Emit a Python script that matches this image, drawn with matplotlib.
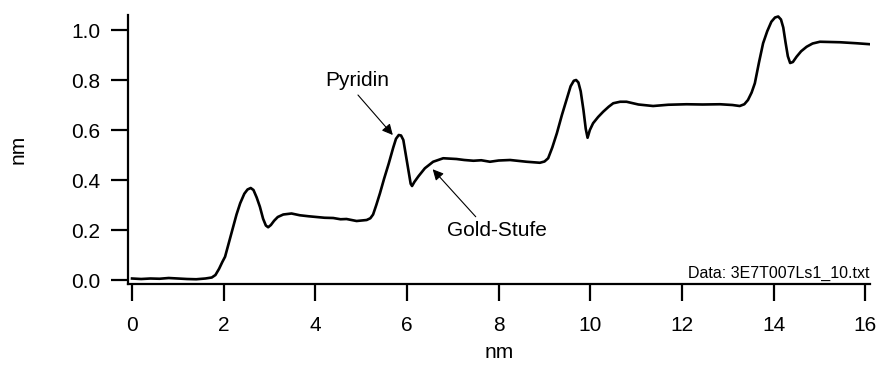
"""Height profile of a gold step surface with pyridine"""
import matplotlib.pyplot as plt

plt.rcParams['font.family'] = ['Liberation Sans', 'DejaVu Sans']

# profile (nm, nm)
x_nm = [0.00, 0.20, 0.40, 0.60, 0.80, 1.00, 1.20, 1.40, 1.60, 1.74, 1.82, 1.90,
        1.97, 2.03, 2.10, 2.16, 2.21, 2.28, 2.36, 2.45, 2.52, 2.59, 2.65, 2.72,
        2.79, 2.86, 2.92, 2.97, 3.03, 3.10, 3.18, 3.30, 3.48, 3.66, 3.85, 4.03,
        4.20, 4.39, 4.55, 4.68, 4.90, 5.12, 5.20, 5.26, 5.33, 5.41, 5.50, 5.60,
        5.70, 5.76, 5.82, 5.87, 5.92, 5.97, 6.03, 6.08, 6.11, 6.16, 6.25, 6.39,
        6.57, 6.79, 7.08, 7.25, 7.45, 7.62, 7.81, 8.00, 8.25, 8.40, 8.61, 8.90,
        9.00, 9.08, 9.17, 9.27, 9.38, 9.48, 9.57, 9.64, 9.69, 9.74, 9.79, 9.85,
        9.90, 9.94, 9.99, 10.06, 10.17, 10.28, 10.40, 10.50, 10.65, 10.79,
        11.05, 11.37, 11.70, 12.10, 12.45, 12.83, 13.10, 13.26, 13.36, 13.44,
        13.52, 13.59, 13.68, 13.77, 13.86, 13.95, 14.03, 14.10, 14.16, 14.21,
        14.26, 14.31, 14.36, 14.42, 14.50, 14.60, 14.72, 14.85, 15.01, 15.25,
        15.45, 15.65, 15.81, 16.11]
height_nm = [0.006, 0.004, 0.006, 0.005, 0.008, 0.006, 0.004, 0.003, 0.006, 0.010,
             0.020, 0.045, 0.072, 0.093, 0.140, 0.180, 0.213, 0.262, 0.307, 0.345,
             0.362, 0.368, 0.360, 0.330, 0.293, 0.245, 0.218, 0.211, 0.220, 0.237,
             0.252, 0.262, 0.266, 0.259, 0.255, 0.252, 0.249, 0.248, 0.243, 0.244,
             0.236, 0.240, 0.247, 0.262, 0.300, 0.347, 0.405, 0.465, 0.530, 0.565,
             0.580, 0.578, 0.560, 0.505, 0.440, 0.385, 0.376, 0.392, 0.415, 0.447,
             0.473, 0.487, 0.484, 0.480, 0.477, 0.479, 0.473, 0.478, 0.480, 0.477,
             0.473, 0.469, 0.474, 0.487, 0.530, 0.587, 0.660, 0.720, 0.775, 0.797,
             0.800, 0.790, 0.755, 0.680, 0.605, 0.569, 0.600, 0.627, 0.652, 0.673,
             0.693, 0.707, 0.713, 0.713, 0.702, 0.696, 0.701, 0.703, 0.702, 0.703,
             0.700, 0.696, 0.703, 0.720, 0.750, 0.787, 0.870, 0.947, 0.995, 1.033,
             1.050, 1.054, 1.042, 1.010, 0.950, 0.895, 0.868, 0.872, 0.893, 0.915,
             0.933, 0.946, 0.953, 0.952, 0.951, 0.949, 0.947, 0.943]

x_ticks = [0, 2, 4, 6, 8, 10, 12, 14, 16]
y_ticks = [0.0, 0.2, 0.4, 0.6, 0.8, 1.0]
data_file = 'Data: 3E7T007Ls1_10.txt'


def plot():
    """Draw the profile"""
    fig = plt.figure(figsize=(8.8, 3.65), dpi=100)
    ax = fig.add_axes([0.1455, 0.2219, 0.843, 0.737])
    ax.plot(x_nm, height_nm, color='black', lw=1.9)

    ax.set_xlim(-0.087, 16.1)
    ax.set_ylim(-0.016, 1.06)
    ax.set_xticks(x_ticks)
    ax.set_yticks(y_ticks)
    ax.set_yticklabels([f'{v:.1f}' for v in y_ticks])
    for side in ('top', 'right'):
        ax.spines[side].set_visible(False)
    for side in ('left', 'bottom'):
        ax.spines[side].set_linewidth(1.6)
    ax.tick_params(direction='out', length=12, width=1.6, labelsize=15)
    ax.tick_params(axis='x', pad=11)
    ax.tick_params(axis='y', pad=8)

    ax.set_xlabel('nm', fontsize=15, labelpad=6)
    ax.set_ylabel('nm', fontsize=15, labelpad=31)

    arrow = dict(arrowstyle='-|>', color='black', lw=0.8, mutation_scale=16,
                 shrinkA=0, shrinkB=0)
    ax.annotate('', xy=(5.69, 0.58), xytext=(4.93, 0.74), arrowprops=arrow)
    ax.text(4.91, 0.80, 'Pyridin', ha='center', va='center', fontsize=15)
    ax.annotate('', xy=(6.56, 0.443), xytext=(7.50, 0.253), arrowprops=arrow)
    ax.text(7.96, 0.20, 'Gold-Stufe', ha='center', va='center', fontsize=15)

    ax.text(1.0, 0.01, data_file, transform=ax.transAxes, ha='right',
            va='bottom', fontsize=11.5)
    fig.savefig('out.png', dpi=100)


plot()
